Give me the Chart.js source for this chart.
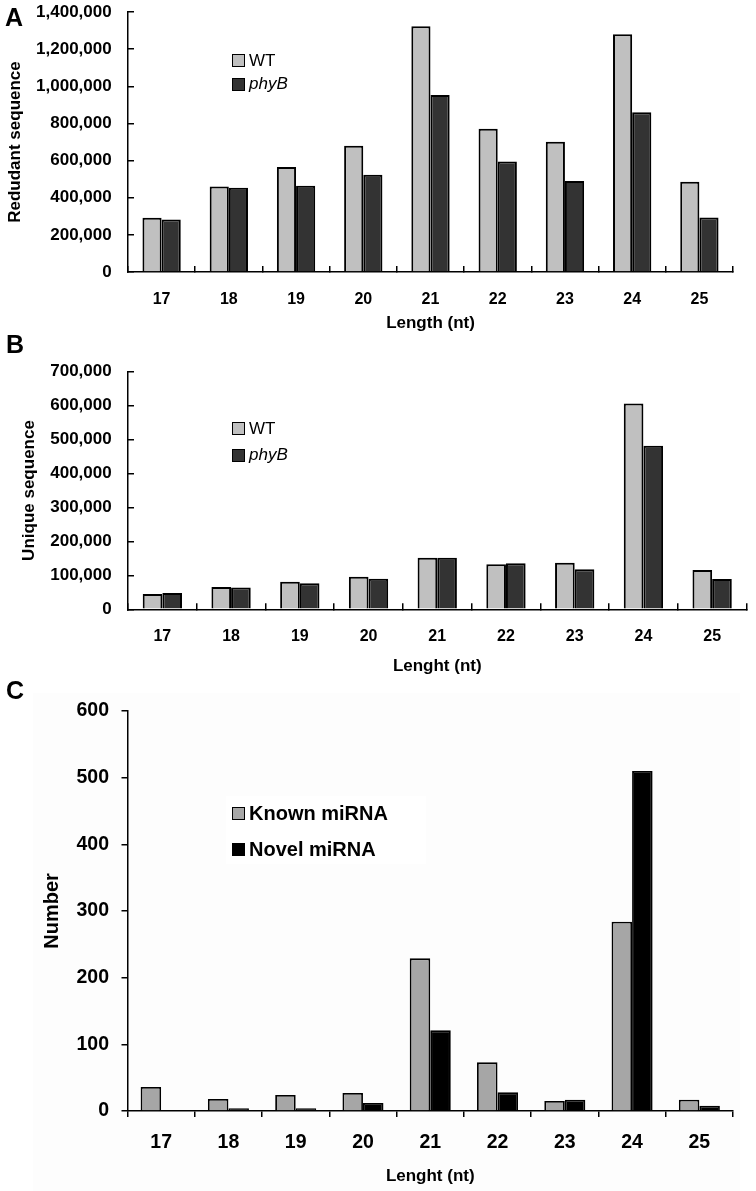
<!DOCTYPE html>
<html>
<head>
<meta charset="utf-8">
<script src="https://cdn.jsdelivr.net/npm/chart.js@4/dist/chart.umd.min.js"></script>
<style>
  html, body { margin:0; padding:0; background:#fff; }
  body { width:756px; height:1191px; position:relative; overflow:hidden; font-family:'Liberation Sans', Arial, sans-serif; }
  canvas { position:absolute; left:0; }
  .letter { position:absolute; font-weight:bold; font-size:25px; color:#000; line-height:1; }
  .leg { position:absolute; display:flex; align-items:center; color:#000; white-space:nowrap; }
  .sw { width:11px; height:11px; border:1px solid #000; margin-right:4px; flex:none; }
  #bgC { position:absolute; left:33px; top:693px; width:707px; height:498px; background:#fdfdfd; }
  #legBoxC { position:absolute; left:226px; top:796px; width:200px; height:68px; background:#fff; }
</style>
</head>
<body>
<div id="bgC"></div>
<div id="legBoxC"></div>
<canvas id="cA" width="756" height="345" style="top:0px"></canvas>
<canvas id="cB" width="756" height="340" style="top:345px"></canvas>
<canvas id="cC" width="756" height="506" style="top:685px"></canvas>
<div class="letter" style="left:5px;top:5px">A</div>
<div class="letter" style="left:6px;top:332px">B</div>
<div class="letter" style="left:6px;top:678px">C</div>
<div id="legends"></div>
<script>
// ---------- data ----------
const categories = ['17','18','19','20','21','22','23','24','25'];

const seriesAB = ['WT', 'phyB'];
const redundantWT   = [292000, 461000, 565000, 680000, 1323000, 772000, 701000, 1280000, 486000];
const redundantPhyB = [283000, 453000, 465000, 524000,  953000, 595000, 490000,  860000, 293000];
const redundantTicks = { max: 1400000, step: 200000 };

const uniqueWT   = [45000, 66000, 81000, 96000, 152000, 133000, 137000, 606000, 116000];
const uniquePhyB = [48000, 64000, 77000, 90000, 152000, 136000, 118000, 482000,  89000];
const uniqueTicks = { max: 700000, step: 100000 };

const seriesC = ['Known miRNA', 'Novel miRNA'];
const knownMiRNA = [36, 18, 24, 27, 229, 73, 15, 284, 17];
const novelMiRNA = [0, 4, 4, 12, 121, 28, 17, 510, 8];
const numberTicks = { max: 600, step: 100 };

const titles = {
  A: { x: 'Length (nt)', y: 'Redudant sequence' },
  B: { x: 'Lenght (nt)', y: 'Unique sequence' },
  C: { x: 'Lenght (nt)', y: 'Number' }
};

// ---------- chart builder ----------
const FAM = "'Liberation Sans', Arial, sans-serif";
function font(size, weight) { return { family: FAM, size: size, weight: weight || 'bold', lineHeight: 1.2 }; }

function makeChart(id, o) {
  const H = o.canvasH;
  const xH = H - o.plotBottom;            // height of x-scale box
  const xTitleLH = o.xTitleSize * 1.2;
  const yTitleLH = o.yTitleSize * 1.2;
  const xTickLH = o.xTickSize * 1.2;
  return new Chart(document.getElementById(id), {
    type: 'bar',
    data: {
      labels: categories,
      datasets: o.series.map((s, i) => ({
        label: s.label, data: s.data,
        backgroundColor: s.color, borderColor: '#000', borderWidth: o.barBorder,
        categoryPercentage: o.catPct, barPercentage: 1.0
      }))
    },
    options: {
      responsive: false, animation: false, devicePixelRatio: 1,
      layout: { padding: { left: 0, right: 756 - o.plotRight, top: o.plotTop, bottom: 0 } },
      plugins: { legend: { display: false }, tooltip: { enabled: false } },
      scales: {
        x: {
          grid: { display: true, drawOnChartArea: false, color: '#000', lineWidth: 1.5, tickLength: o.tick, offset: true },
          border: { display: true, color: '#000', width: 1.5 },
          ticks: { color: '#000', font: font(o.xTickSize), padding: o.xLabelCenter - o.tick - xTickLH / 2, maxRotation: 0 },
          title: { display: true, text: o.xTitle, color: '#000', font: font(o.xTitleSize),
                   padding: { top: 0, bottom: xH - o.xTitleCenter - xTitleLH / 2 } },
          afterFit: s => { s.height = xH; s.paddingLeft = 0; s.paddingRight = 0; }
        },
        y: {
          min: 0, max: o.yMax,
          grid: { display: true, drawOnChartArea: false, color: '#000', lineWidth: 1.5, tickLength: o.tick },
          border: { display: true, color: '#000', width: 1.5 },
          ticks: { stepSize: o.yStep, color: '#000', font: font(o.yTickSize), padding: o.plotLeft - o.tick - o.yLabelRight },
          title: { display: true, text: o.yTitle, color: '#000', font: font(o.yTitleSize),
                   padding: { top: o.yTitleCenter - yTitleLH / 2, bottom: 0 } },
          afterFit: s => { s.width = o.plotLeft; s.paddingTop = 0; s.paddingBottom = 0; }
        }
      }
    }
  });
}

makeChart('cA', {
  canvasH: 345, plotLeft: 128, plotRight: 733, plotTop: 12, plotBottom: 272, tick: -6, barBorder: 2,
  series: [{ label: seriesAB[0], data: redundantWT, color: '#c0c0c0' },
           { label: seriesAB[1], data: redundantPhyB, color: '#333333' }],
  catPct: 0.57, yMax: redundantTicks.max, yStep: redundantTicks.step,
  xTitle: titles.A.x, yTitle: titles.A.y,
  xTickSize: 16, yTickSize: 17, xTitleSize: 17, yTitleSize: 17,
  xLabelCenter: 27.3, xTitleCenter: 51.3, yLabelRight: 111.7, yTitleCenter: 15
});

makeChart('cB', {
  canvasH: 340, plotLeft: 128, plotRight: 746.5, plotTop: 26.7, plotBottom: 264.3, tick: -6, barBorder: 2,
  series: [{ label: seriesAB[0], data: uniqueWT, color: '#c0c0c0' },
           { label: seriesAB[1], data: uniquePhyB, color: '#333333' }],
  catPct: 0.572, yMax: uniqueTicks.max, yStep: uniqueTicks.step,
  xTitle: titles.B.x, yTitle: titles.B.y,
  xTickSize: 16, yTickSize: 17, xTitleSize: 17, yTitleSize: 17,
  xLabelCenter: 27.4, xTitleCenter: 57.4, yLabelRight: 111.7, yTitleCenter: 29.7
});

makeChart('cC', {
  canvasH: 506, plotLeft: 127.5, plotRight: 733, plotTop: 26, plotBottom: 426, tick: 6, barBorder: 1.8,
  series: [{ label: seriesC[0], data: knownMiRNA, color: '#a6a6a6' },
           { label: seriesC[1], data: novelMiRNA, color: '#000000' }],
  catPct: 0.61, yMax: numberTicks.max, yStep: numberTicks.step,
  xTitle: titles.C.x, yTitle: titles.C.y,
  xTickSize: 19.5, yTickSize: 19.5, xTitleSize: 17, yTitleSize: 20,
  xLabelCenter: 32, xTitleCenter: 65, yLabelRight: 109, yTitleCenter: 52.5
});

// ---------- legends (HTML text) ----------
const legends = [
  { labels: seriesAB, colors: ['#c0c0c0', '#333333'], centers: [60.5, 84], size: 17, weight: 'normal', italic: [false, true] },
  { labels: seriesAB, colors: ['#c0c0c0', '#333333'], centers: [428.5, 455], size: 17, weight: 'normal', italic: [false, true] },
  { labels: seriesC, colors: ['#a6a6a6', '#000000'], centers: [813.5, 849.5], size: 20, weight: 'bold', italic: [false, false] }
];
const host = document.getElementById('legends');
legends.forEach(L => {
  L.labels.forEach((t, i) => {
    const row = document.createElement('div');
    row.className = 'leg';
    const h = 24;
    row.style.left = '232px';
    row.style.top = (L.centers[i] - h / 2) + 'px';
    row.style.height = h + 'px';
    row.style.fontSize = L.size + 'px';
    row.style.fontWeight = L.weight;
    const sw = document.createElement('div');
    sw.className = 'sw';
    sw.style.background = L.colors[i];
    const tx = document.createElement('span');
    tx.textContent = t;
    if (L.italic[i]) tx.style.fontStyle = 'italic';
    row.appendChild(sw); row.appendChild(tx);
    host.appendChild(row);
  });
});
</script>
</body>
</html>
